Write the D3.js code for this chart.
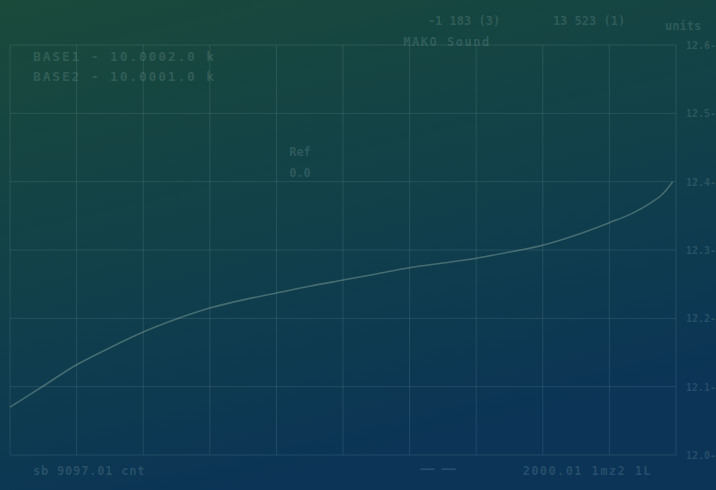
<!DOCTYPE html>
<html>
<head>
<meta charset="utf-8">
<script src="https://cdn.jsdelivr.net/npm/d3@7"></script>
<style>
  html, body { margin: 0; padding: 0; background: #0f3f48; }
  svg { display: block; }
</style>
</head>
<body>
<script>
// curve samples (x in % of span, y in scale units)
const xs = [0, 5, 10, 15, 20, 25, 30, 35, 40, 45, 50, 55, 60, 65, 70, 75, 80, 85, 90, 93.5, 96.2, 98, 99.5];
const ys = [12.070, 12.101, 12.132, 12.157, 12.180, 12.199, 12.215, 12.227, 12.237, 12.247, 12.256,
            12.265, 12.274, 12.281, 12.288, 12.297, 12.307, 12.322, 12.340, 12.354, 12.369, 12.382, 12.400];
const yTicks = [12.6, 12.5, 12.4, 12.3, 12.2, 12.1, 12.0];
const xTicks = [0, 10, 20, 30, 40, 50, 60, 70, 80, 90, 100];
const legendLines = ["BASE1 -  10.0002.0 k", "BASE2 -  10.0001.0 k"];
const headerVals = ["-1 183 (3)", "13 523 (1)"];

const W = 716, H = 490;
const margin = { top: 45, right: 40, bottom: 35, left: 10 };
const pw = W - margin.left - margin.right;
const ph = H - margin.top - margin.bottom;
const ink = "rgba(190,215,215,0.17)";

const svg = d3.select("body").append("svg").attr("width", W).attr("height", H);
const defs = svg.append("defs");
const bg = defs.append("linearGradient").attr("id", "bg")
  .attr("x1", "0").attr("y1", "0").attr("x2", "0.35").attr("y2", "1");
bg.append("stop").attr("offset", "0%").attr("stop-color", "#1a4a3a");
bg.append("stop").attr("offset", "55%").attr("stop-color", "#11404a");
bg.append("stop").attr("offset", "100%").attr("stop-color", "#0b3456");
svg.append("rect").attr("width", W).attr("height", H).attr("fill", "url(#bg)");

const x = d3.scaleLinear().domain([0, 100]).range([0, pw]);
const y = d3.scaleLinear().domain([12.0, 12.6]).range([ph, 0]);

const g = svg.append("g").attr("transform", `translate(${margin.left},${margin.top})`);

// grid
g.append("g").selectAll("line").data(xTicks).join("line")
  .attr("x1", d => x(d)).attr("x2", d => x(d)).attr("y1", 0).attr("y2", ph)
  .attr("stroke", "rgba(170,200,200,0.14)");
g.append("g").selectAll("line").data(yTicks).join("line")
  .attr("x1", 0).attr("x2", pw).attr("y1", d => y(d)).attr("y2", d => y(d))
  .attr("stroke", "rgba(170,200,200,0.14)");

// right axis labels
g.append("g").selectAll("text").data(yTicks).join("text")
  .attr("x", pw + 10).attr("y", d => y(d) + 4)
  .attr("fill", ink).attr("font-family", "DejaVu Sans Mono").attr("font-size", 10)
  .attr("font-weight", "bold")
  .text(d => d.toFixed(1) + "-");

// curve
const line = d3.line().x((d, i) => x(xs[i])).y(d => y(d)).curve(d3.curveMonotoneX);
g.append("path").datum(ys).attr("d", line)
  .attr("fill", "none").attr("stroke", "rgba(150,180,165,0.4)").attr("stroke-width", 1.6);

const txt = (px, py, s, anchor = "start", size = 12, ls = 0) =>
  svg.append("text").attr("x", px).attr("y", py).attr("text-anchor", anchor)
    .attr("fill", ink).attr("font-family", "DejaVu Sans Mono").attr("font-size", size)
    .attr("font-weight", "bold").attr("letter-spacing", ls).text(s);

// header
txt(464, 25, headerVals[0], "middle", 12);
txt(589, 25, headerVals[1], "middle", 12);
txt(447, 46, "MAKO Sound", "middle", 12, 1.5);
txt(665, 30, "units", "start", 12);

// legend
legendLines.forEach((s, i) => txt(33, 61 + i * 20, s, "start", 13, 1.8));

// reference marker
txt(300, 156, "Ref", "middle", 12);
txt(300, 177, "0.0", "middle", 12);

// footer
txt(33, 475, "sb 9097.01 cnt", "start", 12, 0.8);
txt(438, 473, "—— ——", "middle", 12);
txt(652, 475, "2000.01 1mz2 1L", "end", 12, 1.4);
</script>
</body>
</html>
